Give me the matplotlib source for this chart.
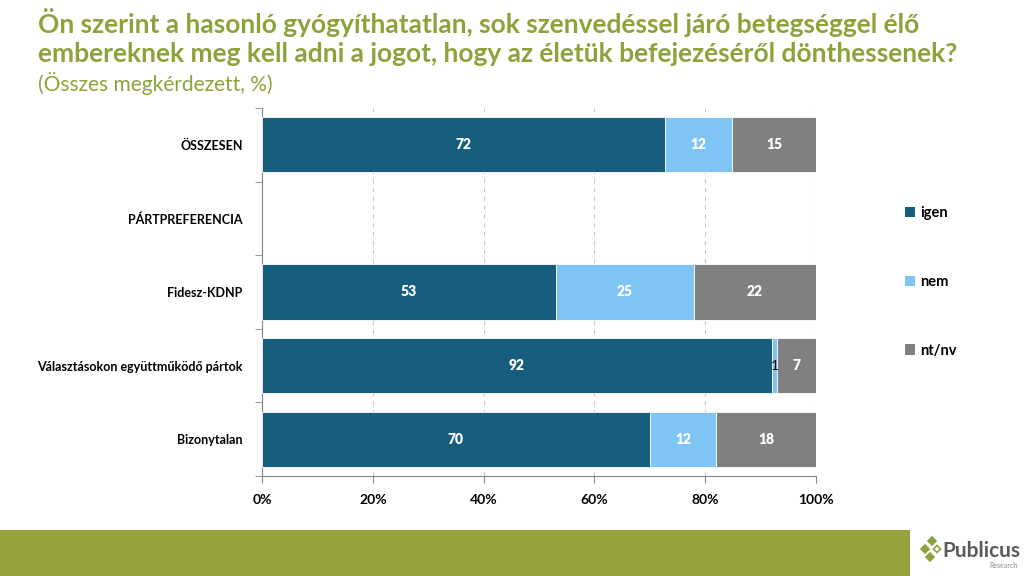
import numpy as np
import matplotlib
matplotlib.use("Agg")
import matplotlib.pyplot as plt
from matplotlib.patches import Rectangle, Polygon, Patch

plt.rcParams['font.family'] = ['Lato', 'DejaVu Sans']

categories = ['ÖSSZESEN', 'PÁRTPREFERENCIA', 'Fidesz-KDNP',
              'Választásokon együttműködő pártok', 'Bizonytalan']
igen = [72, np.nan, 53, 92, 70]
nem = [12, np.nan, 25, 1, 12]
ntnv = [15, np.nan, 22, 7, 18]
series_names = ['igen', 'nem', 'nt/nv']
colors = ['#175d7d', '#7ec4f4', '#808080']

title = ('Ön szerint a hasonló gyógyíthatatlan, sok szenvedéssel járó betegséggel élő\n'
         'embereknek meg kell adni a jogot, hogy az életük befejezéséről dönthessenek?')
subtitle = '(Összes megkérdezett, %)'

fig = plt.figure(figsize=(10.24, 5.76), dpi=100)
ax = fig.add_axes([262 / 1024, 1 - 476 / 576, 554 / 1024, 368 / 576])

y = np.arange(len(categories))
values = [np.array(igen, dtype=float), np.array(nem, dtype=float), np.array(ntnv, dtype=float)]
totals = values[0] + values[1] + values[2]
left = np.zeros(len(categories))
for vals, col, name in zip(values, colors, series_names):
    share = vals / totals
    ax.barh(y, share, left=left, height=0.75, color=col, edgecolor='white',
            linewidth=0.6, label=name, zorder=3)
    for yi, s, l, v in zip(y, share, left, vals):
        if np.isnan(v):
            continue
        small = v < 3
        ax.text(l + s / 2, yi, f'{v:.0f}', ha='center', va='center',
                fontsize=10, fontweight='normal' if small else 'heavy',
                color='black' if small else 'white', zorder=4)
    left = left + np.nan_to_num(share)

ax.set_xlim(0, 1)
ax.set_ylim(len(categories) - 0.5, -0.5)
ax.set_xticks(np.arange(0, 1.01, 0.2))
ax.set_xticklabels([f'{int(t * 100)}%' for t in np.arange(0, 1.01, 0.2)],
                   fontsize=10, fontweight='bold')
ax.set_yticks(y)
ax.set_yticklabels(categories, fontsize=9, fontweight='bold')
ax.tick_params(axis='y', which='major', length=0, pad=14)
ax.set_yticks(np.arange(-0.5, len(categories), 1), minor=True)
ax.tick_params(axis='y', which='minor', length=5, color='#868686')
ax.tick_params(axis='x', length=5, color='#868686', pad=8)
ax.xaxis.grid(True, linestyle=(0, (4, 4)), color='#c8c8c8', linewidth=0.8, zorder=0)
for s in ['top', 'right']:
    ax.spines[s].set_visible(False)
for s in ['left', 'bottom']:
    ax.spines[s].set_color('#868686')

handles = [Patch(facecolor=c, label=n) for c, n in zip(colors, series_names)]
fig.legend(handles=handles, loc='upper left', bbox_to_anchor=(892 / 1024, 1 - 193 / 576),
           frameon=False, labelspacing=3.75, handlelength=0.7,
           handleheight=0.7, handletextpad=0.35, prop={'weight': 'bold', 'size': 10.5})

fig.text(38 / 1024, 1 - 8 / 576, title, ha='left', va='top', fontsize=19,
         fontweight='bold', color='#8ca33b', linespacing=1.25)
fig.text(38 / 1024, 1 - 72 / 576, subtitle, ha='left', va='top', fontsize=15,
         color='#8ca33b')

# bottom band and logo
fig.add_artist(Rectangle((0, 0), 910 / 1024, 46 / 576, transform=fig.transFigure,
                         facecolor='#98a23c', edgecolor='none'))


def diamond(cx, cy, r, fill=True):
    pts = [(cx, cy + r), (cx + r, cy), (cx, cy - r), (cx - r, cy)]
    pts = [(px / 100, (576 - py) / 100) for px, py in pts]
    fig.add_artist(Polygon(pts, closed=True, transform=fig.dpi_scale_trans,
                           facecolor='#8ca33b' if fill else 'white',
                           edgecolor='#8ca33b', linewidth=1.2))


diamond(932, 541, 4)
diamond(925, 549, 4)
diamond(937, 549, 3.5, fill=False)
diamond(930, 557, 4)
fig.text(942 / 1024, 1 - 551 / 576, 'Publicus', ha='left', va='center', fontsize=15,
         fontweight='bold', color='#5a5a5a')
fig.text(1018 / 1024, 1 - 566 / 576, 'Research', ha='right', va='center', fontsize=5,
         color='#8a8a8a')

fig.savefig('out.png', dpi=100)
